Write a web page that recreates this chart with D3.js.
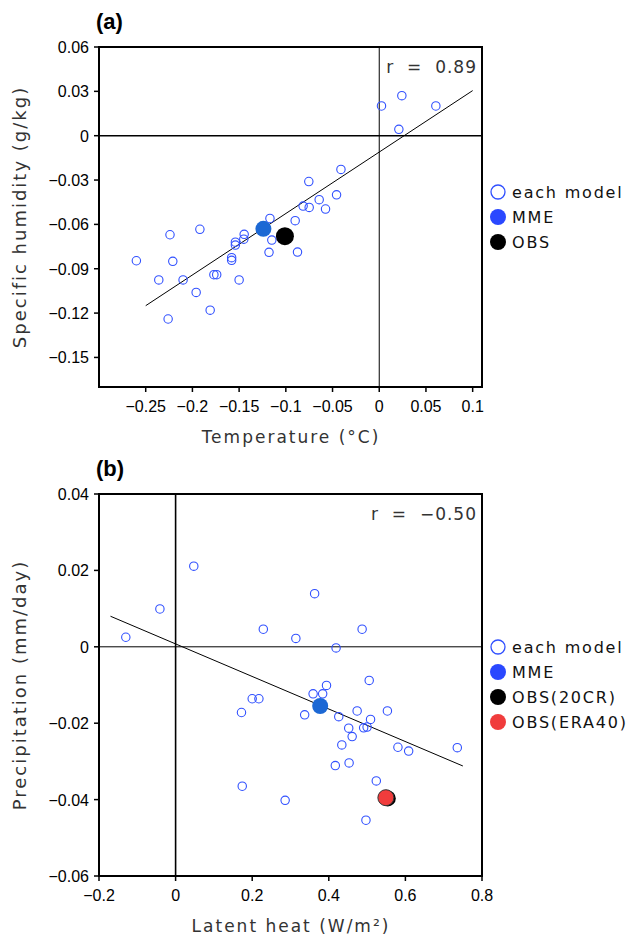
<!DOCTYPE html>
<html>
<head>
<meta charset="utf-8">
<script src="https://cdn.jsdelivr.net/npm/d3@7.8.5/dist/d3.min.js"></script>
<style>
  body { margin: 0; background: #fff; }
  svg { display: block; }
  .tick-label { font-family: "Liberation Sans", Arial, sans-serif; font-size: 16px; fill: #000; }
  .title { font-family: "DejaVu Sans", sans-serif; font-size: 17px; fill: #333; letter-spacing: 2px; }
  .panel-tag { font-family: "Liberation Sans", Arial, sans-serif; font-size: 22px; font-weight: bold; }
</style>
</head>
<body>
<svg id="chart" width="633" height="939"></svg>
<script>
// panel (a): temperature vs specific humidity
const tempModels = [-0.260, -0.224, -0.192, -0.221, -0.236, -0.210, -0.196, -0.226, -0.181, -0.177,
  -0.174, -0.150, -0.158, -0.158, -0.154, -0.154, -0.1446, -0.145, -0.117, -0.115,
  -0.118, -0.0754, -0.0457, -0.0643, -0.0575, -0.0815, -0.075, -0.090, -0.0875, -0.041,
  0.0024, 0.0242, 0.0606, 0.021];
const humModels = [-0.0846, -0.067, -0.0633, -0.085, -0.0976, -0.0976, -0.106, -0.124, -0.118, -0.094,
  -0.094, -0.0976, -0.0825, -0.0843, -0.072, -0.074, -0.0667, -0.070, -0.056, -0.0706,
  -0.0789, -0.031, -0.040, -0.0433, -0.0496, -0.0476, -0.0485, -0.0575, -0.0787, -0.0228,
  0.0201, 0.0271, 0.0201, 0.0043];
const mmeA = [-0.124, -0.063];
const obsA = [-0.101, -0.068];
const fitA = [[-0.25, -0.115], [0.1, 0.0305]];
const xTicksA = [-0.25, -0.2, -0.15, -0.1, -0.05, 0, 0.05, 0.1];
const yTicksA = [0.06, 0.03, 0, -0.03, -0.06, -0.09, -0.12, -0.15];

// panel (b): latent heat vs precipitation
const lhModels = [-0.130, -0.041, 0.0475, 0.229, 0.363, 0.314, 0.487, 0.419, 0.5055, 0.200,
  0.2175, 0.172, 0.174, 0.286, 0.394, 0.359, 0.384, 0.337, 0.426, 0.474,
  0.553, 0.509, 0.491, 0.500, 0.452, 0.461, 0.434, 0.5805, 0.6085, 0.7355,
  0.453, 0.417, 0.524, 0.497];
const prModels = [0.0025, 0.0099, 0.0211, 0.0046, 0.0139, 0.0022, 0.0046, -0.0003, -0.0088, -0.0136,
  -0.0136, -0.0172, -0.0365, -0.0402, -0.0101, -0.0123, -0.0123, -0.0178, -0.0183, -0.0168,
  -0.0168, -0.0190, -0.0212, -0.0210, -0.0213, -0.0235, -0.0257, -0.0263, -0.0273, -0.0264,
  -0.0304, -0.0311, -0.0351, -0.0454];
const mmeB = [0.3775, -0.0155];
const obs20cr = [0.554, -0.0397];
const obsEra40 = [0.549, -0.0395];
const fitB = [[-0.17, 0.008], [0.75, -0.0312]];
const xTicksB = [-0.2, 0, 0.2, 0.4, 0.6, 0.8];
const yTicksB = [0.04, 0.02, 0, -0.02, -0.04, -0.06];

const svg = d3.select("#chart");
const fmt = (v) => (v === 0 ? "0" : String(+v.toFixed(2)).replace("-", "\u2212"));

function drawPanel(p) {
  const x = d3.scaleLinear().domain(p.xDomain).range([99, 482]);
  const y = d3.scaleLinear().domain(p.yDomain).range([p.bottom, p.top]);
  const g = svg.append("g");

  // zero lines
  g.append("line")
    .attr("x1", x(0)).attr("x2", x(0))
    .attr("y1", p.top).attr("y2", p.bottom)
    .attr("stroke", "#000").attr("stroke-width", p.vZeroW);
  g.append("line")
    .attr("x1", 99).attr("x2", 482)
    .attr("y1", y(0)).attr("y2", y(0))
    .attr("stroke", "#000").attr("stroke-width", p.hZeroW);

  // regression line
  g.append("line")
    .attr("x1", x(p.fit[0][0])).attr("y1", y(p.fit[0][1]))
    .attr("x2", x(p.fit[1][0])).attr("y2", y(p.fit[1][1]))
    .attr("stroke", "#000").attr("stroke-width", 1);

  // model points
  g.append("g")
    .selectAll("circle")
    .data(d3.range(p.xs.length))
    .enter()
    .append("circle")
    .attr("cx", (i) => x(p.xs[i]))
    .attr("cy", (i) => y(p.ys[i]))
    .attr("r", 4.2)
    .attr("fill", "none")
    .attr("stroke", "#3050ff")
    .attr("stroke-width", 1.1);

  p.big.forEach((b) => {
    g.append("circle")
      .attr("cx", x(b.v[0])).attr("cy", y(b.v[1]))
      .attr("r", b.r)
      .attr("fill", b.fill)
      .attr("stroke", b.stroke || "none")
      .attr("stroke-width", 1);
  });

  // frame
  g.append("rect")
    .attr("x", 99).attr("y", p.top)
    .attr("width", 383).attr("height", p.bottom - p.top)
    .attr("fill", "none").attr("stroke", "#000").attr("stroke-width", 2);

  // y ticks
  const yt = g.append("g");
  p.yTicks.forEach((t) => {
    yt.append("line")
      .attr("x1", 94).attr("x2", 99)
      .attr("y1", y(t)).attr("y2", y(t))
      .attr("stroke", "#000").attr("stroke-width", 1.5);
    yt.append("text").attr("class", "tick-label")
      .attr("x", 89).attr("y", y(t) + 6)
      .attr("text-anchor", "end")
      .text(fmt(t));
  });

  // x ticks
  const xt = g.append("g");
  p.xTicks.forEach((t) => {
    xt.append("line")
      .attr("x1", x(t)).attr("x2", x(t))
      .attr("y1", p.bottom).attr("y2", p.bottom + 5)
      .attr("stroke", "#000").attr("stroke-width", 1.5);
    xt.append("text").attr("class", "tick-label")
      .attr("x", x(t)).attr("y", p.bottom + 25)
      .attr("text-anchor", "middle")
      .text(fmt(t));
  });

  // titles
  g.append("text").attr("class", "title")
    .attr("x", 291).attr("y", p.bottom + 56)
    .attr("text-anchor", "middle")
    .text(p.xTitle);
  g.append("text").attr("class", "title")
    .attr("transform", `translate(26,${(p.top + p.bottom) / 2}) rotate(-90)`)
    .attr("text-anchor", "middle")
    .style("font-size", "18px")
    .text(p.yTitle);
  g.append("text").attr("class", "panel-tag")
    .attr("x", 96).attr("y", p.top - 18)
    .text(p.tag);
  g.append("text").attr("class", "title")
    .attr("x", 477).attr("y", p.top + 26)
    .attr("text-anchor", "end")
    .style("letter-spacing", "1px")
    .style("white-space", "pre")
    .text(p.rText);

  // legend
  const lg = g.append("g");
  p.legend.forEach((l, i) => {
    const ly = p.legendY + i * 25;
    lg.append("circle")
      .attr("cx", 498).attr("cy", ly)
      .attr("r", l.open ? 7 : 8)
      .attr("fill", l.open ? "none" : l.fill)
      .attr("stroke", l.open ? "#3050ff" : "none")
      .attr("stroke-width", 1.3);
    lg.append("text").attr("class", "title")
      .attr("x", 512).attr("y", ly + 6)
      .style("fill", "#111")
      .style("font-size", "16px")
      .style("letter-spacing", "1.8px")
      .style("white-space", "pre")
      .text(l.label);
  });
}

drawPanel({
  tag: "(a)", top: 47, bottom: 387,
  xDomain: [-0.3, 0.11], yDomain: [-0.17, 0.06],
  xs: tempModels, ys: humModels, fit: fitA,
  xTicks: xTicksA, yTicks: yTicksA,
  vZeroW: 1, hZeroW: 1.6,
  big: [
    { v: mmeA, r: 8, fill: "#1c68d4" },
    { v: obsA, r: 9, fill: "#000" }
  ],
  xTitle: "Temperature (\u00b0C)",
  yTitle: "Specific humidity (g/kg)",
  rText: "r  =  0.89",
  legendY: 192,
  legend: [
    { open: true, label: "each model" },
    { fill: "#2a48ff", label: "MME" },
    { fill: "#000", label: "OBS" }
  ]
});

drawPanel({
  tag: "(b)", top: 494, bottom: 876,
  xDomain: [-0.2, 0.8], yDomain: [-0.06, 0.04],
  xs: lhModels, ys: prModels, fit: fitB,
  xTicks: xTicksB, yTicks: yTicksB,
  vZeroW: 1.6, hZeroW: 1,
  big: [
    { v: mmeB, r: 8, fill: "#1c68d4" },
    { v: obs20cr, r: 8, fill: "#000" },
    { v: obsEra40, r: 8, fill: "#f03c3c", stroke: "#333" }
  ],
  xTitle: "Latent heat (W/m\u00b2)",
  yTitle: "Precipitation (mm/day)",
  rText: "r  =  \u22120.50",
  legendY: 647,
  legend: [
    { open: true, label: "each model" },
    { fill: "#2a48ff", label: "MME" },
    { fill: "#000", label: "OBS(20CR)" },
    { fill: "#f03c3c", label: "OBS(ERA40)" }
  ]
});
</script>
</body>
</html>
